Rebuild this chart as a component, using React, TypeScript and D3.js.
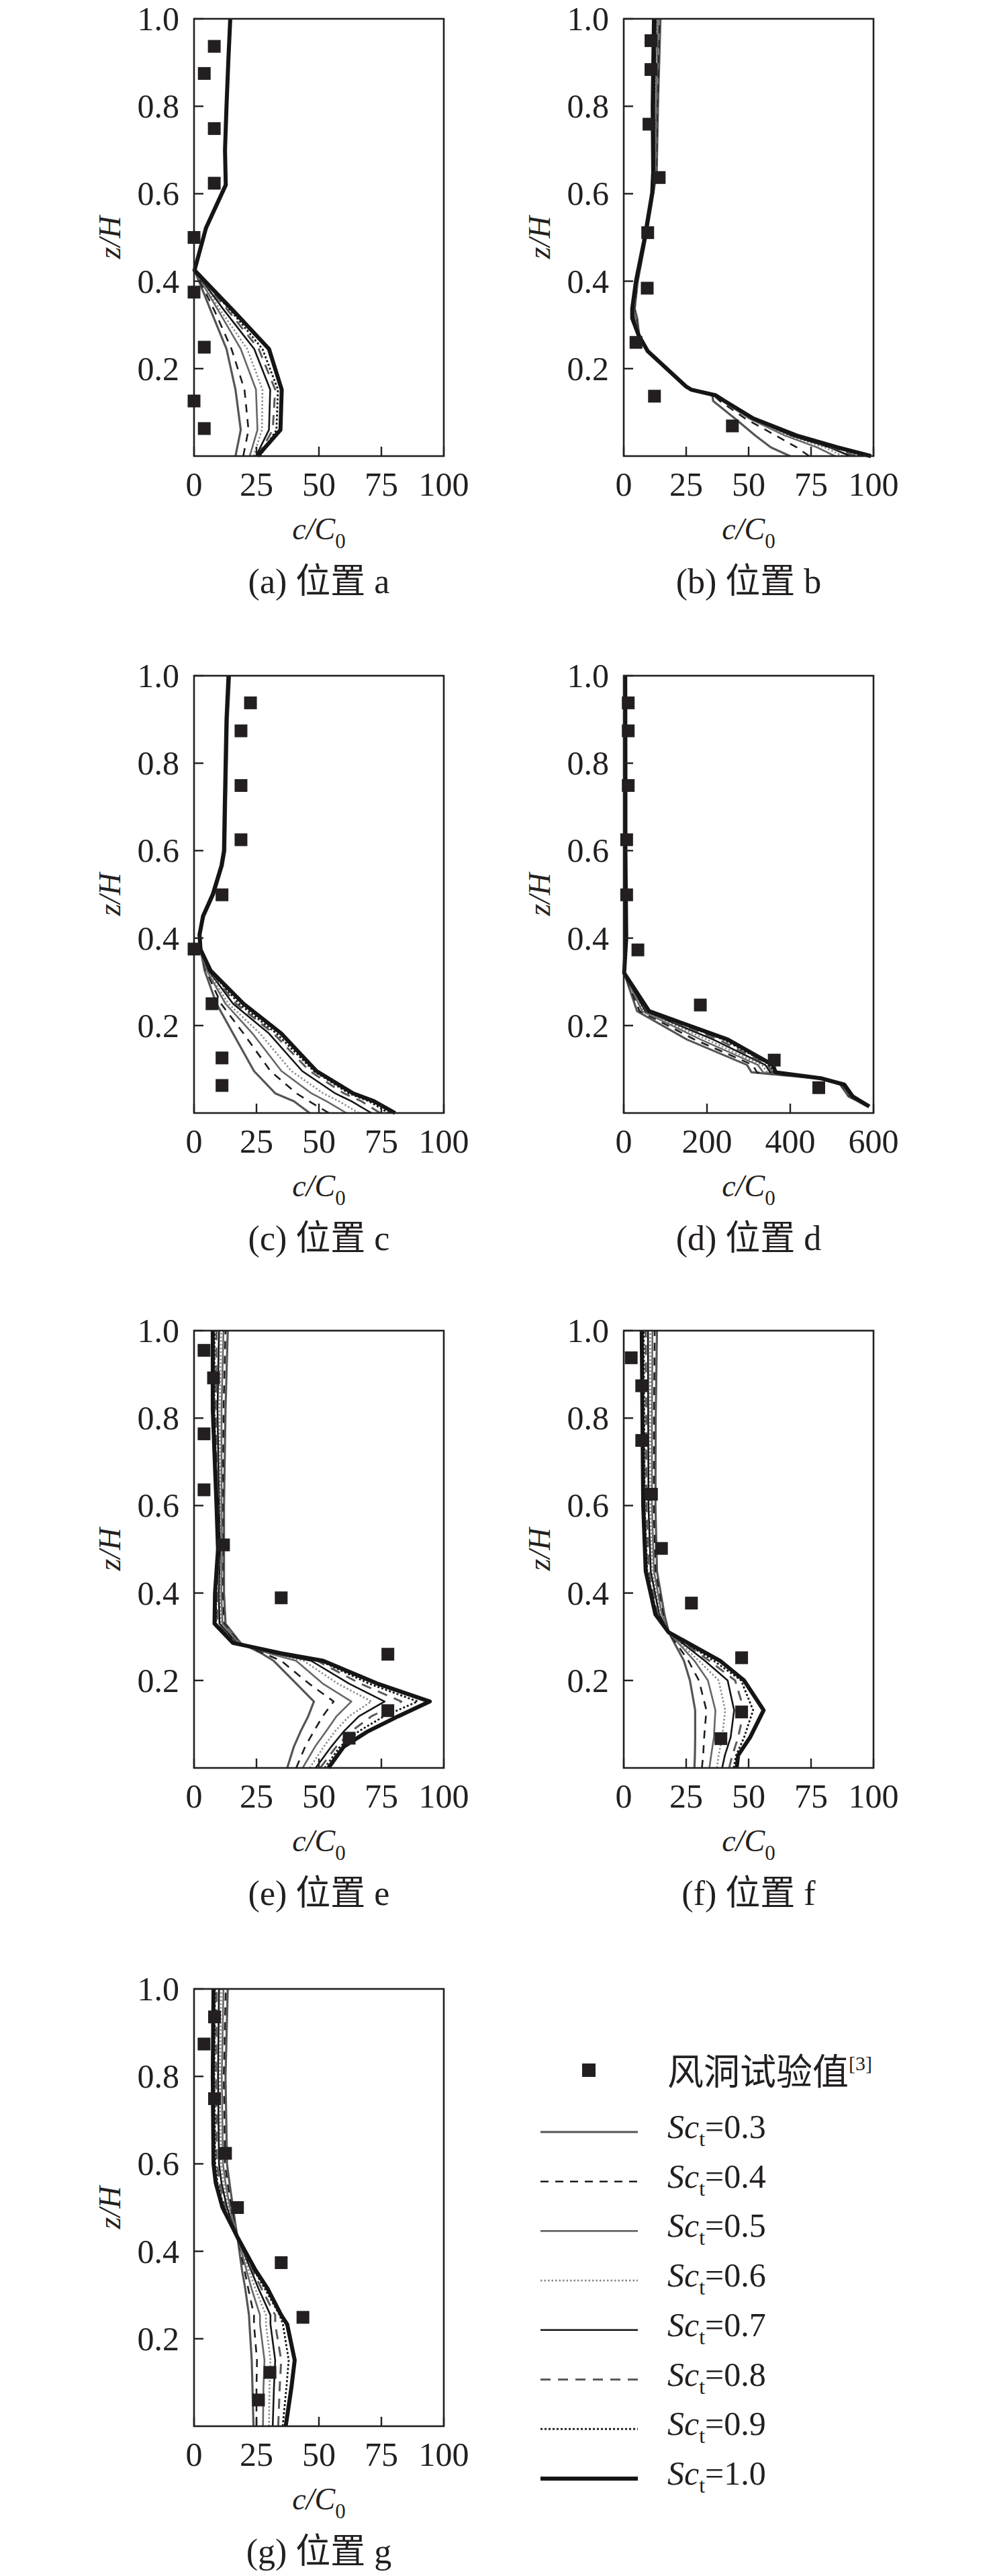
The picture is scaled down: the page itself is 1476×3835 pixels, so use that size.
import * as d3 from 'd3';
import * as React from 'react';

// ---- data ----
const scValues = ['0.3', '0.4', '0.5', '0.6', '0.7', '0.8', '0.9', '1.0'];
const yTickValues = [0.2, 0.4, 0.6, 0.8, 1.0];
const xTicks100 = [0, 25, 50, 75, 100];
const xTicks600 = [0, 200, 400, 600];

// (a)
const zA = [0, 0.06, 0.152, 0.245, 0.33, 0.425, 0.522, 0.62, 0.7, 0.8, 0.9, 1.0];
const curvesA = [
  [16.6, 18.7, 16.6, 13.0, 6.9, 0.2, 4.8, 12.7, 12.4, 13.0, 13.7, 14.5],
  [19.7, 21.8, 20.2, 15.0, 8.4, 0.2, 4.8, 12.7, 12.4, 13.0, 13.7, 14.5],
  [22.3, 25.4, 24.8, 18.7, 10.0, 0.2, 4.8, 12.7, 12.4, 13.0, 13.7, 14.5],
  [23.8, 27.2, 27.4, 21.3, 11.0, 0.2, 4.8, 12.7, 12.4, 13.0, 13.7, 14.5],
  [24.8, 30.0, 30.5, 24.1, 12.5, 0.2, 4.8, 12.7, 12.4, 13.0, 13.7, 14.5],
  [25.5, 31.5, 32.5, 25.9, 14.0, 0.2, 4.8, 12.7, 12.4, 13.0, 13.7, 14.5],
  [26.4, 33.0, 33.6, 27.4, 15.1, 0.2, 4.8, 12.7, 12.4, 13.0, 13.7, 14.5],
  [25.4, 34.6, 35.1, 30.0, 16.1, 0.2, 4.8, 12.7, 12.4, 13.0, 13.7, 14.5],
];
const expXA = [8.1, 4.1, 8.1, 8.1, 0, 0, 4.1, 0, 4.1];
const expZA = [0.937, 0.875, 0.749, 0.624, 0.5, 0.375, 0.249, 0.126, 0.063];

// (b)
const zB = [0, 0.02, 0.047, 0.086, 0.126, 0.139, 0.152, 0.159, 0.24, 0.276, 0.315, 0.337, 0.4, 0.496, 0.602, 0.65, 0.8, 1.0];
const curvesB = [
  [66.6, 58.9, 52.7, 44.5, 35.8, 35.5, 27, 25, 9.6, 6.2, 5.4, 4.4, 5.6, 8.8, 11.9, 13.2, 13.7, 14.7],
  [74.3, 69.2, 60.9, 48.6, 38.5, 36.0, 27, 25, 9.6, 6.1, 5.0, 4.2, 5.5, 8.7, 11.8, 13.0, 13.4, 14.3],
  [84.6, 77.4, 64.5, 50.2, 39.5, 36.3, 27, 25, 9.6, 6.1, 4.6, 4.0, 5.3, 8.6, 11.7, 12.7, 13.0, 13.8],
  [87.7, 80.5, 66.1, 50.7, 40.0, 36.5, 27, 25, 9.6, 6.0, 4.3, 3.8, 5.2, 8.5, 11.6, 12.4, 12.6, 13.3],
  [90.7, 82.5, 67.1, 51.2, 40.2, 36.6, 27, 25, 9.6, 6.0, 4.0, 3.7, 5.1, 8.4, 11.5, 12.2, 12.2, 12.9],
  [92.8, 83.6, 68.1, 51.5, 40.3, 36.7, 27, 25, 9.6, 6.0, 3.7, 3.6, 5.0, 8.4, 11.5, 12.0, 11.9, 12.6],
  [95.9, 84.6, 68.7, 51.7, 40.4, 36.8, 27, 25, 9.6, 6.0, 3.5, 3.5, 5.0, 8.3, 11.4, 11.9, 11.7, 12.3],
  [99.0, 85.5, 69.2, 51.9, 40.4, 36.8, 27, 25, 9.6, 6.0, 3.4, 3.4, 4.9, 8.3, 11.4, 11.8, 11.6, 12.1],
];
const expXB = [10.9, 10.9, 10.1, 14.2, 9.6, 9.4, 4.9, 12.3, 43.5];
const expZB = [0.95, 0.884, 0.759, 0.637, 0.511, 0.384, 0.26, 0.137, 0.069];

// (c)
const zC = [0, 0.027, 0.045, 0.096, 0.182, 0.25, 0.326, 0.374, 0.408, 0.45, 0.5, 0.566, 0.6, 0.7, 0.9, 1.0];
const curvesC = [
  [46.3, 40.0, 32.5, 24.0, 15.6, 9.0, 4.2, 2.6, 2.4, 4.0, 8.0, 11.5, 12.5, 12.8, 13.5, 14.4],
  [54.0, 46.0, 41.0, 30.6, 19.8, 10.8, 4.8, 2.6, 2.3, 3.8, 7.8, 11.3, 12.3, 12.6, 13.3, 14.1],
  [61.0, 53.0, 47.0, 35.0, 23.4, 12.6, 5.1, 2.6, 2.2, 3.6, 7.5, 11.0, 12.0, 12.3, 13.0, 13.8],
  [66.0, 58.0, 51.7, 39.0, 26.4, 13.8, 5.4, 2.6, 2.2, 3.6, 7.5, 11.0, 12.0, 12.3, 13.0, 13.8],
  [71.0, 63.0, 56.5, 43.3, 30.0, 15.6, 5.8, 2.6, 2.2, 3.6, 7.5, 11.0, 12.0, 12.3, 13.0, 13.8],
  [74.5, 67.0, 60.0, 46.3, 31.8, 16.8, 6.1, 2.6, 2.2, 3.6, 7.5, 11.0, 12.0, 12.3, 13.0, 13.8],
  [78.0, 70.0, 62.0, 48.0, 33.0, 18.0, 6.4, 2.6, 2.2, 3.6, 7.5, 11.0, 12.0, 12.3, 13.0, 13.8],
  [80.5, 72.0, 63.7, 49.0, 34.9, 19.8, 6.6, 2.6, 2.2, 3.6, 7.5, 11.0, 12.0, 12.3, 13.0, 13.8],
];
const expXC = [22.6, 18.8, 18.8, 18.8, 11.2, 0, 7.2, 11.2, 11.2];
const expZC = [0.938, 0.874, 0.749, 0.625, 0.499, 0.375, 0.25, 0.126, 0.063];

// (d)
const zD = [0.015, 0.038, 0.065, 0.079, 0.093, 0.11, 0.168, 0.213, 0.233, 0.32, 0.4, 0.5, 0.6, 0.8, 1.0];
const curvesD = [
  [586, 540, 520, 470, 307, 296, 152, 69, 32, 1, 6, 5, 4, 4, 3.6],
  [586, 542, 522, 471, 320, 310, 170, 80, 38, 1, 6, 5, 4, 4, 3.6],
  [587, 544, 524, 472, 335, 322, 185, 88, 44, 1, 6, 5, 4, 4, 3.6],
  [587, 545, 525, 473, 345, 332, 200, 95, 48, 1, 6, 5, 4, 4, 3.6],
  [588, 546, 526, 474, 352, 340, 215, 102, 52, 1, 6, 5, 4, 4, 3.6],
  [588, 547, 527, 475, 357, 346, 228, 108, 56, 1, 6, 5, 4, 4, 3.6],
  [589, 548, 528, 475, 361, 352, 240, 114, 59, 1, 6, 5, 4, 4, 3.6],
  [590, 550, 530, 476, 365, 358, 250, 119, 61, 1, 6, 5, 4, 4, 3.6],
];
const expXD = [10.8, 10.8, 10.8, 7, 7, 34, 184, 361.5, 468.5];
const expZD = [0.938, 0.874, 0.749, 0.625, 0.499, 0.373, 0.247, 0.121, 0.058];

// (e)
const zE = [0, 0.049, 0.084, 0.118, 0.152, 0.193, 0.245, 0.262, 0.286, 0.33, 0.4, 0.5, 0.6, 0.82, 1.0];
const curvesE = [
  [37.3, 40.0, 42.7, 45.7, 48.0, 40.9, 31.9, 27.0, 18.6, 12.6, 12.0, 12.0, 12.0, 12.6, 13.5],
  [40.9, 44.5, 48.0, 51.5, 55.9, 46.0, 34.9, 28.0, 18.2, 12.0, 11.4, 11.6, 11.5, 11.8, 12.6],
  [43.5, 48.5, 52.9, 57.0, 63.0, 51.5, 40.9, 30.0, 17.8, 11.4, 10.9, 11.2, 11.0, 11.0, 11.8],
  [46.3, 52.0, 56.5, 62.0, 71.0, 57.5, 43.9, 31.0, 17.4, 10.8, 10.4, 10.8, 10.5, 10.2, 10.9],
  [48.7, 55.0, 60.0, 66.0, 76.3, 62.0, 46.9, 32.0, 17.0, 10.2, 9.9, 10.4, 10.0, 9.4, 10.0],
  [50.5, 57.0, 63.0, 71.0, 83.0, 66.5, 49.3, 33.0, 16.6, 9.4, 9.4, 10.1, 9.6, 8.7, 9.0],
  [52.3, 58.5, 66.0, 76.0, 89.5, 70.0, 50.5, 34.0, 16.1, 8.8, 8.9, 9.8, 9.3, 8.1, 8.2],
  [53.8, 60.0, 69.7, 81.7, 94.4, 73.3, 51.7, 35.0, 15.6, 8.2, 8.4, 9.6, 9.0, 7.5, 7.5],
];
const expXE = [4, 7.8, 4, 4, 11.8, 34.9, 77.6, 77.6, 62.1];
const expZE = [0.955, 0.892, 0.764, 0.636, 0.51, 0.389, 0.26, 0.131, 0.068];

// (f)
const zF = [0, 0.029, 0.07, 0.132, 0.2, 0.245, 0.31, 0.351, 0.45, 0.6, 0.8, 1.0];
const curvesF = [
  [28.3, 28.5, 28.6, 28.6, 26.5, 24.1, 18, 16.3, 13.3, 12.7, 12.8, 13.3],
  [31.3, 31.8, 32.2, 33.1, 30.1, 25.9, 18, 15.8, 12.7, 12.0, 12.1, 12.4],
  [34.3, 35.0, 36.1, 36.7, 33.7, 28.3, 18, 15.3, 12.1, 11.3, 11.3, 11.5],
  [37.3, 38.0, 39.4, 40.6, 38.0, 30.1, 18, 14.8, 11.5, 10.6, 10.6, 10.6],
  [39.4, 40.5, 42.8, 44.2, 41.6, 32.5, 18, 14.2, 10.8, 9.9, 9.8, 9.7],
  [42.2, 43.5, 45.8, 48.2, 44.6, 34.3, 18, 13.7, 10.1, 9.1, 9.0, 8.8],
  [44.0, 45.0, 48.2, 51.8, 47.0, 36.1, 18, 13.2, 9.4, 8.4, 8.2, 8.0],
  [45.2, 45.8, 50.6, 56.0, 48.2, 38.6, 18, 12.7, 8.8, 7.8, 7.5, 7.2],
];
const expXF = [3, 7.2, 7.2, 11.1, 15.1, 27.1, 47.2, 47.2, 38.9];
const expZF = [0.938, 0.874, 0.749, 0.626, 0.502, 0.377, 0.252, 0.128, 0.067];

// (g)
const zG = [0, 0.089, 0.151, 0.233, 0.254, 0.315, 0.357, 0.432, 0.453, 0.5, 0.556, 0.6, 0.8, 1.0];
const curvesG = [
  [23.8, 23.4, 23.1, 22.2, 22.0, 20.5, 19.2, 17.4, 16.8, 15.6, 14.2, 13.2, 12.6, 13.5],
  [25.0, 25.0, 25.2, 24.0, 24.0, 21.7, 20.2, 17.4, 16.6, 15.0, 13.4, 12.4, 11.9, 12.7],
  [27.6, 27.8, 28.2, 26.4, 26.4, 23.0, 21.0, 17.4, 16.4, 14.4, 12.6, 11.6, 11.1, 11.8],
  [30.0, 30.2, 30.6, 28.8, 28.8, 24.5, 21.9, 17.4, 16.2, 13.8, 11.8, 10.8, 10.3, 10.9],
  [31.5, 32.0, 32.5, 30.6, 30.6, 25.8, 22.8, 17.4, 16.0, 13.2, 11.0, 10.0, 9.6, 10.0],
  [33.7, 34.3, 34.9, 32.5, 32.5, 27.0, 23.4, 17.4, 15.9, 12.6, 10.2, 9.2, 8.8, 9.1],
  [35.5, 37.0, 37.9, 35.6, 34.3, 28.3, 24.0, 17.4, 15.7, 12.0, 9.4, 8.5, 8.1, 8.4],
  [36.7, 39.0, 40.3, 37.3, 34.9, 29.4, 24.6, 17.4, 15.6, 11.4, 8.7, 7.8, 7.5, 7.8],
];
const expXG = [8.2, 4, 8.2, 12.6, 17.4, 34.9, 43.6, 30.4, 25.8];
const expZG = [0.936, 0.874, 0.749, 0.624, 0.5, 0.374, 0.249, 0.123, 0.06];

const panels = [
  { key: 'a', z: zA, curves: curvesA, expX: expXA, expZ: expZA, xTicks: xTicks100 },
  { key: 'b', z: zB, curves: curvesB, expX: expXB, expZ: expZB, xTicks: xTicks100 },
  { key: 'c', z: zC, curves: curvesC, expX: expXC, expZ: expZC, xTicks: xTicks100 },
  { key: 'd', z: zD, curves: curvesD, expX: expXD, expZ: expZD, xTicks: xTicks600 },
  { key: 'e', z: zE, curves: curvesE, expX: expXE, expZ: expZE, xTicks: xTicks100 },
  { key: 'f', z: zF, curves: curvesF, expX: expXF, expZ: expZF, xTicks: xTicks100 },
  { key: 'g', z: zG, curves: curvesG, expX: expXG, expZ: expZG, xTicks: xTicks100 },
];

// ---- styling ----
const INK = '#231f20';
const SERIF = '"Liberation Serif", "Times New Roman", "Noto Sans CJK SC", serif';
const lineStyles = [
  { color: '#555555', width: 3.2, dash: null },
  { color: '#1e1e1e', width: 2.6, dash: '12,10' },
  { color: '#666666', width: 2.6, dash: null },
  { color: '#8a8a8a', width: 2.6, dash: '2.5,3' },
  { color: '#151515', width: 2.6, dash: null },
  { color: '#5a5a5a', width: 3, dash: '15,11' },
  { color: '#151515', width: 2.8, dash: '3,3' },
  { color: '#151515', width: 6, dash: null },
];

const colLeft = [289, 929];
const rowTop = [28, 1006, 1981, 2961];
const boxW = 372;
const boxH = 651;

const Panel = ({ p, idx }) => {
  const left = colLeft[idx % 2];
  const top = rowTop[Math.floor(idx / 2)];
  const xMax = p.xTicks[p.xTicks.length - 1];
  const x = d3.scaleLinear().domain([0, xMax]).range([left, left + boxW]);
  const y = d3.scaleLinear().domain([0, 1]).range([top + boxH, top]);
  const bottom = top + boxH;
  const cx = left + boxW / 2;
  const fmt = d3.format('.1f');

  return (
    <g>
      {p.curves.map((vals, i) => {
        const pts = vals.map((v, j) => [v, p.z[j]]);
        const path = d3
          .line()
          .x((d) => x(d[0]))
          .y((d) => y(d[1]))(pts);
        const st = lineStyles[i];
        return (
          <path
            key={i}
            d={path}
            fill="none"
            stroke={st.color}
            strokeWidth={st.width}
            strokeDasharray={st.dash || undefined}
            strokeLinejoin="round"
          />
        );
      })}
      {p.expX.map((v, i) => (
        <rect key={i} x={x(v) - 9.5} y={y(p.expZ[i]) - 9.5} width={19} height={19} fill={INK} />
      ))}
      <rect x={left} y={top} width={boxW} height={boxH} fill="none" stroke={INK} strokeWidth={2.6} />
      {yTickValues.map((t) => (
        <g key={t}>
          <line x1={left} x2={left + 14} y1={y(t)} y2={y(t)} stroke={INK} strokeWidth={2.4} />
          <text x={left - 22} y={y(t) + 17} textAnchor="end" fontSize={50} fill={INK} fontFamily={SERIF}>
            {fmt(t)}
          </text>
        </g>
      ))}
      {p.xTicks.map((t) => (
        <g key={t}>
          <line x1={x(t)} x2={x(t)} y1={bottom} y2={bottom - 14} stroke={INK} strokeWidth={2.4} />
          <text x={x(t)} y={bottom + 59} textAnchor="middle" fontSize={50} fill={INK} fontFamily={SERIF}>
            {t}
          </text>
        </g>
      ))}
      <text
        transform={`translate(${left - 110},${top + boxH / 2}) rotate(-90)`}
        textAnchor="middle"
        fontSize={46}
        fill={INK}
        fontFamily={SERIF}
        fontStyle="italic"
      >
        z/H
      </text>
      <text x={cx} y={bottom + 124} textAnchor="middle" fontSize={46} fill={INK} fontFamily={SERIF}>
        <tspan fontStyle="italic">c/C</tspan>
        <tspan fontSize={31} dy={13}>0</tspan>
      </text>
      <text x={cx} y={bottom + 204} textAnchor="middle" fontSize={52} fill={INK} fontFamily={SERIF}>
        {`(${p.key}) 位置 ${p.key}`}
      </text>
    </g>
  );
};

const Legend = () => {
  const lineX1 = 805;
  const lineX2 = 950;
  const textX = 994;
  const firstRow = 3174;
  const step = 73.7;
  return (
    <g>
      <rect x={877 - 10} y={3082 - 10} width={20} height={20} fill={INK} />
      <text x={textX} y={3104} fontSize={54} fill={INK} fontFamily={SERIF}>
        风洞试验值
        <tspan fontSize={30} dy={-22}>[3]</tspan>
      </text>
      {scValues.map((s, i) => {
        const ly = firstRow + i * step;
        const st = lineStyles[i];
        return (
          <g key={s}>
            <line
              x1={lineX1}
              x2={lineX2}
              y1={ly}
              y2={ly}
              stroke={st.color}
              strokeWidth={st.width}
              strokeDasharray={st.dash || undefined}
            />
            <text x={textX} y={ly + 9} fontSize={50} fill={INK} fontFamily={SERIF}>
              <tspan fontStyle="italic">Sc</tspan>
              <tspan fontSize={32} dy={12}>t</tspan>
              <tspan dy={-12}>{`=${s}`}</tspan>
            </text>
          </g>
        );
      })}
    </g>
  );
};

const App = () => {
  return (
    <svg
      width={1476}
      height={3835}
      viewBox="0 0 1476 3835"
      style={{ position: 'absolute', left: 0, top: 0, background: '#fff' }}
    >
      <rect x={0} y={0} width={1476} height={3835} fill="#fff" />
      {panels.map((p, i) => (
        <Panel key={p.key} p={p} idx={i} />
      ))}
      <Legend />
    </svg>
  );
};

export default App;
